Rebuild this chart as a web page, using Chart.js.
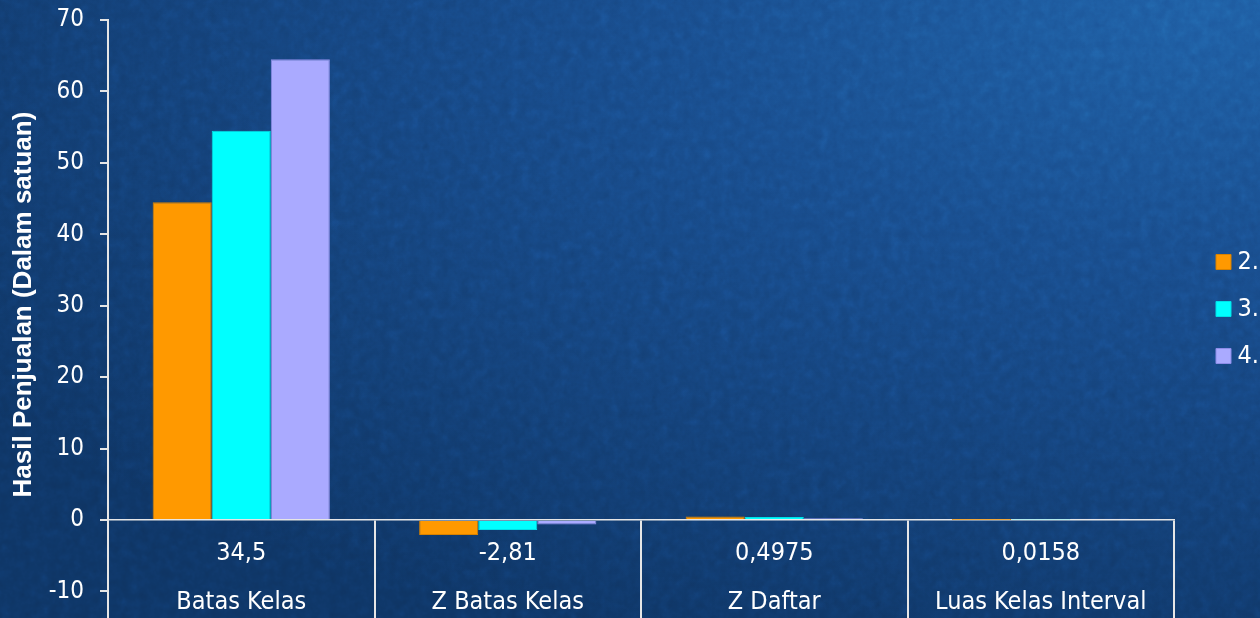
<!DOCTYPE html>
<html>
<head>
<meta charset="utf-8">
<script src="https://cdn.jsdelivr.net/npm/chart.js@4.4.1/dist/chart.umd.min.js"></script>
<style>
  html, body { margin: 0; padding: 0; width: 1260px; height: 618px; overflow: hidden; }
  body {
    background: radial-gradient(ellipse 120% 110% at 96% 2%, #1e5ca2 0%, #184b8a 35%, #133f75 70%, #0e3463 100%);
    position: relative;
  }
  #tex {
    position: absolute; left: 0; top: 0; width: 1260px; height: 618px;
    background-image: url("data:image/svg+xml;utf8,<svg xmlns='http://www.w3.org/2000/svg' width='1260' height='618'><filter id='n' x='0' y='0'><feTurbulence type='fractalNoise' baseFrequency='0.1' numOctaves='3' seed='7'/><feColorMatrix type='saturate' values='0'/></filter><rect width='1260' height='618' filter='url(%23n)'/></svg>");
    opacity: 0.3;
    mix-blend-mode: overlay;
  }
  canvas { position: absolute; left: 0; top: 0; }
</style>
</head>
<body>
<div id="tex"></div>
<canvas id="c" width="1260" height="618"></canvas>
<script>
const categoryValues = ['34,5', '-2,81', '0,4975', '0,0158'];
const categoryNames = ['Batas Kelas', 'Z Batas Kelas', 'Z Daftar', 'Luas Kelas Interval'];
const seriesNames = ['2.', '3.', '4.'];
const series2 = [44.5, -2.1, 0.4821, 0.0154];
const series3 = [54.5, -1.39, 0.4177, 0.0644];
const series4 = [64.5, -0.62, 0.2486, 0.1691];
const yAxisTitle = 'Hasil Penjualan (Dalam satuan)';
const yMin = -13.72, yMax = 70, yStep = 10;

const labels = categoryValues.map((v, i) => [v, categoryNames[i]]);
const lineColor = '#e6e6e6';
const fontMain = '"DejaVu Sans Condensed", "DejaVu Sans", sans-serif';

new Chart(document.getElementById('c'), {
  type: 'bar',
  data: {
    labels: labels,
    datasets: [
      { label: seriesNames[0], data: series2, backgroundColor: '#ff9900', borderColor: '#d98200', borderWidth: 1, xAxisID: 'x', yAxisID: 'y' },
      { label: seriesNames[1], data: series3, backgroundColor: '#00ffff', borderColor: '#00e0e8', borderWidth: 1, xAxisID: 'x', yAxisID: 'y' },
      { label: seriesNames[2], data: series4, backgroundColor: '#aaaaff', borderColor: '#8c8ce8', borderWidth: 1, xAxisID: 'x', yAxisID: 'y' }
    ]
  },
  options: {
    responsive: false,
    animation: false,
    devicePixelRatio: 1,
    categoryPercentage: 0.665,
    barPercentage: 1,
    layout: { padding: 0 },
    plugins: {
      tooltip: { enabled: false },
      legend: {
        position: 'right',
        maxWidth: 60,
        labels: {
          color: '#ffffff',
          usePointStyle: true,
          pointStyle: 'rect',
          boxWidth: 3,
          boxHeight: 15,
          padding: 22,
          font: { family: fontMain, size: 25 }
        }
      }
    },
    scales: {
      x: {
        type: 'category',
        position: { y: 0 },
        offset: true,
        grid: {
          offset: true,
          drawOnChartArea: false,
          drawTicks: true,
          tickLength: 100,
          color: lineColor,
          lineWidth: 2
        },
        border: { display: true, color: lineColor, width: 1.5, z: 0 },
        ticks: {
          color: '#ffffff',
          autoSkip: false,
          maxRotation: 0,
          minRotation: 0,
          padding: -91.5,
          font: { family: fontMain, size: 25, lineHeight: '49px' }
        },
        afterFit: s => { s.paddingLeft = 0; s.paddingRight = 0; s.paddingTop = 0; s.paddingBottom = 0; }
      },
      xTop: {
        type: 'category',
        position: 'top',
        display: true,
        grid: { display: false },
        border: { display: false },
        ticks: { display: false },
        afterFit: s => { s.height = 20; s.paddingLeft = 0; s.paddingRight = 0; s.paddingTop = 0; s.paddingBottom = 0; }
      },
      y: {
        type: 'linear',
        position: 'left',
        min: yMin,
        max: yMax,
        afterFit: s => { s.width = 108; s.paddingTop = 0; s.paddingBottom = 0; },
        grid: {
          drawOnChartArea: false,
          drawTicks: true,
          tickLength: 8,
          color: lineColor,
          lineWidth: 2
        },
        border: { display: true, color: lineColor, width: 2 },
        ticks: {
          stepSize: yStep,
          includeBounds: false,
          color: '#ffffff',
          padding: 16,
          font: { family: fontMain, size: 24 }
        },
        title: {
          display: true,
          text: '\u00A0\u00A0\u00A0\u00A0' + yAxisTitle,
          color: '#ffffff',
          padding: { top: 8, bottom: 0 },
          font: { family: '"Liberation Sans", Arial, sans-serif', size: 26, weight: 'bold' }
        }
      },
      yRight: {
        type: 'linear',
        position: 'right',
        display: true,
        grid: { display: false },
        border: { display: false },
        ticks: { display: false },
        afterFit: s => { s.width = 26; s.paddingTop = 0; s.paddingBottom = 0; }
      }
    }
  }
});
</script>
</body>
</html>
